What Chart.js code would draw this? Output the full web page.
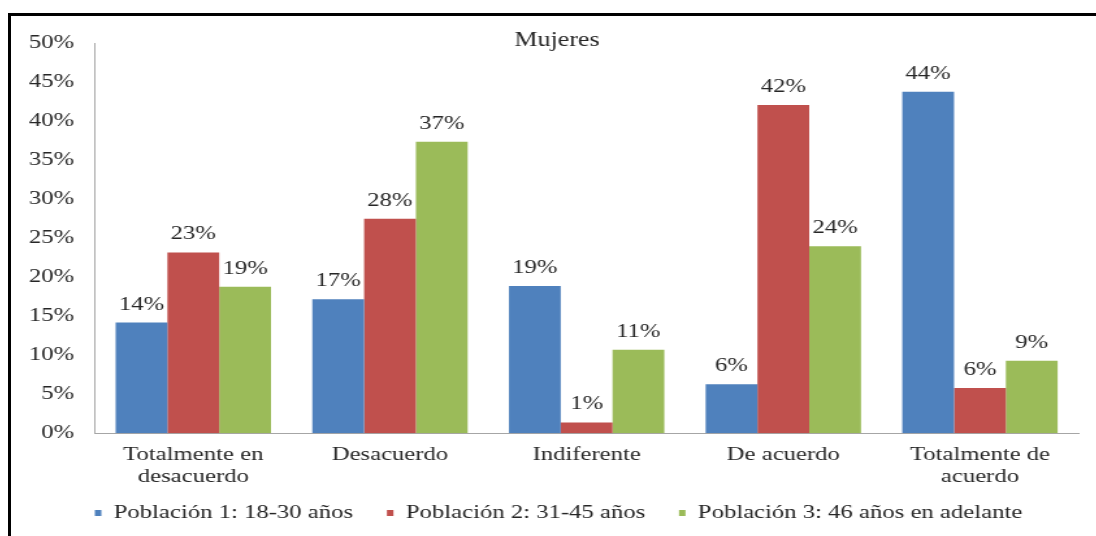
<!DOCTYPE html>
<html lang="es">
<head>
<meta charset="UTF-8">
<title>Mujeres</title>
<script src="https://cdn.jsdelivr.net/npm/chart.js"></script>
<style>
    html, body { margin: 0; padding: 0; background: #fff; overflow: hidden; }
    /* the original picture is a stretched office chart with a black frame on top/left */
    .frame {
        position: absolute; left: 8px; top: 13px;
        width: 1085px; height: 520px;
        border-top: 3px solid #000; border-left: 3px solid #000;
        overflow: hidden;
    }
    #chart { display: block; transform: scaleX(1.3); transform-origin: 0 0; }
</style>
</head>
<body>
<div class="frame">
    <canvas id="chart" width="835" height="520"></canvas>
</div>

<script>
    const categories = [['Totalmente en', 'desacuerdo'], 'Desacuerdo', 'Indiferente', 'De acuerdo', ['Totalmente de', 'acuerdo']];
    const seriesNames = ['Población 1: 18-30 años', 'Población 2: 31-45 años', 'Población 3: 46 años en adelante'];
    const poblacion1 = [14.2, 17.2, 18.9, 6.3, 43.8];
    const poblacion2 = [23.2, 27.5, 1.4, 42.1, 5.8];
    const poblacion3 = [18.8, 37.4, 10.7, 24.0, 9.3];
    const seriesColors = ['#4F81BD', '#C0504D', '#9BBB59'];
    const yMax = 50;
    const yStep = 5;
    const chartTitle = 'Mujeres';

    const serif = "'Liberation Serif', 'Times New Roman', serif";
    Chart.defaults.font.family = serif;
    Chart.defaults.font.size = 19;
    Chart.defaults.color = '#262626';

    // value above every bar
    const valueLabels = {
        id: 'valueLabels',
        afterDatasetsDraw(chart) {
            const ctx = chart.ctx;
            ctx.save();
            ctx.font = '19px ' + serif;
            ctx.fillStyle = '#262626';
            ctx.textAlign = 'center';
            ctx.textBaseline = 'middle';
            chart.data.datasets.forEach((ds, i) => {
                chart.getDatasetMeta(i).data.forEach((bar, j) => {
                    ctx.fillText(Math.round(ds.data[j]) + '%', bar.x, bar.y - 18);
                });
            });
            ctx.restore();
        }
    };

    // title sits inside the plot area in the original
    const insideTitle = {
        id: 'insideTitle',
        afterDraw(chart) {
            const ctx = chart.ctx;
            ctx.save();
            ctx.font = '20px ' + serif;
            ctx.fillStyle = '#262626';
            ctx.textAlign = 'center';
            ctx.textBaseline = 'middle';
            ctx.fillText(chartTitle, 420, 25);
            ctx.restore();
        }
    };

    // legend in the original is a bit right of centre and tucked under the labels
    const legendNudge = {
        id: 'legendNudge',
        afterLayout(chart) {
            const lg = chart.legend;
            if (!lg) return;
            lg.left += 21.4;
            const h = lg.bottom - lg.top;
            lg.top = 461.5;
            lg.bottom = lg.top + h;
        }
    };

    const seriesData = [poblacion1, poblacion2, poblacion3];

    new Chart(document.getElementById('chart'), {
        type: 'bar',
        data: {
            labels: categories,
            datasets: seriesNames.map((name, i) => ({
                label: name,
                data: seriesData[i],
                backgroundColor: seriesColors[i],
                categoryPercentage: 0.79,
                barPercentage: 1.0
            }))
        },
        options: {
            responsive: false,
            animation: false,
            layout: { padding: { left: 0, right: 14, top: 19.5, bottom: 0 } },
            plugins: {
                legend: {
                    position: 'bottom',
                    maxHeight: 50,
                    labels: { boxWidth: 5, boxHeight: 6, padding: 26, font: { size: 19 } }
                },
                tooltip: { enabled: false }
            },
            scales: {
                x: {
                    grid: { display: false, drawTicks: false },
                    border: { display: true, color: '#a6a6a6', width: 1 },
                    ticks: { padding: 10, maxRotation: 0, autoSkip: false, font: { size: 19 } },
                    afterFit(scale) { scale.height = 52.7; }
                },
                y: {
                    min: 0,
                    max: yMax,
                    grid: { display: false, drawTicks: false },
                    border: { display: true, color: '#a6a6a6', width: 1 },
                    ticks: { stepSize: yStep, padding: 16, font: { size: 19 }, callback: v => v + '%' },
                    afterFit(scale) { scale.width = 64.6; }
                }
            }
        },
        plugins: [valueLabels, insideTitle, legendNudge]
    });
</script>
</body>
</html>
